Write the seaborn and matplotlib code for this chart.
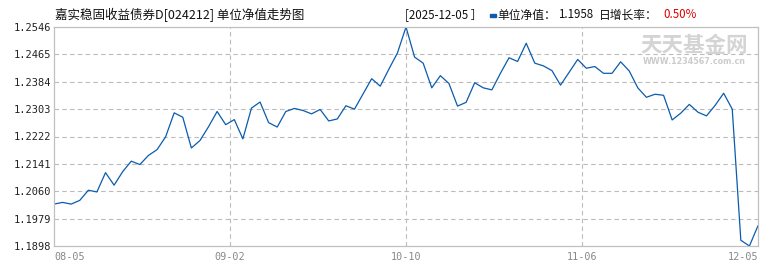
import numpy as np
import pandas as pd
import matplotlib
matplotlib.use("Agg")
import matplotlib.pyplot as plt
from matplotlib.patches import Rectangle
import seaborn as sns

# ---- data ----
nav = [1.2022, 1.2027, 1.2022, 1.2033, 1.2063, 1.2058, 1.2115, 1.2078, 1.2118, 1.2149,
       1.2139, 1.2166, 1.2183, 1.2221, 1.2292, 1.2279, 1.2188, 1.2210, 1.2251, 1.2296,
       1.2257, 1.2272, 1.2215, 1.2306, 1.2324, 1.2263, 1.2250, 1.2296, 1.2305, 1.2299,
       1.2289, 1.2302, 1.2268, 1.2274, 1.2313, 1.2303, 1.2348, 1.2393, 1.2371, 1.2421,
       1.2469, 1.2546, 1.2457, 1.2439, 1.2366, 1.2402, 1.2379, 1.2312, 1.2323, 1.2381,
       1.2366, 1.2360, 1.2409, 1.2455, 1.2444, 1.2498, 1.2439, 1.2431, 1.2417, 1.2374,
       1.2412, 1.2450, 1.2424, 1.2429, 1.2409, 1.2409, 1.2443, 1.2416, 1.2366, 1.2338,
       1.2347, 1.2344, 1.2271, 1.2291, 1.2317, 1.2294, 1.2283, 1.2314, 1.2350, 1.2303,
       1.1915, 1.1898, 1.1958]
x_labels = ["08-05", "09-02", "10-10", "11-06", "12-05"]
title = "嘉实稳固收益债券D[024212] 单位净值走势图"
last_date = "[2025-12-05 ］"
nav_label = "单位净值："
nav_value = "1.1958"
growth_label = "日增长率："
growth_value = "0.50%"

sns.set_theme(style="white")
plt.rcParams['font.family'] = ['Noto Sans CJK SC', 'DejaVu Sans']

W, H = 770, 270
fig = plt.figure(figsize=(W / 100, H / 100), dpi=100)
L, R, T, B = 54, 758, 27, 246
ax = fig.add_axes([L / W, 1 - B / H, (R - L) / W, (B - T) / H])

df = pd.DataFrame({"idx": np.arange(len(nav)), "nav": nav})
sns.lineplot(data=df, x="idx", y="nav", ax=ax, color="#0b5cad", linewidth=0.9)

n = len(nav) - 1
ymin, ymax = min(nav), max(nav)
ax.set_xlim(0, n)
ax.set_ylim(ymin, ymax)
yt = np.linspace(ymin, ymax, 9)
ax.set_yticks(yt)
ax.set_yticklabels([f"{v:.4f}" for v in yt], family="DejaVu Sans Mono", fontsize=7.5, color="#222222")
xt = np.linspace(0, n, len(x_labels))
ax.set_xticks(xt)
ax.set_xticklabels(x_labels, family="DejaVu Sans Mono", fontsize=7.3, color="#888888")
for i, lab in enumerate(ax.get_xticklabels()):
    if i == 0:
        lab.set_ha("left")
    elif i == len(x_labels) - 1:
        lab.set_ha("right")
ax.tick_params(axis="both", length=0)
ax.tick_params(axis="y", pad=2)
ax.tick_params(axis="x", pad=4)
ax.set_xlabel("")
ax.set_ylabel("")

for v in yt[1:-1]:
    ax.axhline(v, color="#bbbbbb", lw=0.8, ls=(0, (4, 3)), zorder=0)
for v in xt[1:-1]:
    ax.axvline(v, color="#bbbbbb", lw=0.8, ls=(0, (4, 3)), zorder=0)
for s in ax.spines.values():
    s.set_color("#c0c0c0")
    s.set_linewidth(0.9)

# watermark
fig.text(694 / W, 1 - 46 / H, "天天基金网", ha="center", va="center",
         fontsize=15.5, fontweight="bold", color="#d4d4d4", zorder=0)
fig.text(694 / W, 1 - 62 / H, "WWW.1234567.com.cn", ha="center", va="center",
         fontsize=5.8, family="DejaVu Sans", fontweight="bold", color="#cccccc", zorder=0)

# header
fig.text(55 / W, 1 - 15 / H, title, ha="left", va="center", fontsize=9, color="#111111")
fig.text(405 / W, 1 - 15 / H, last_date, ha="left", va="center", fontsize=8.3, color="#111111")
fig.add_artist(Rectangle((490 / W, 1 - 16.5 / H), 6 / W, 3 / H, transform=fig.transFigure,
                         color="#0b5cad"))
fig.text(497 / W, 1 - 15 / H, nav_label, ha="left", va="center", fontsize=8.5, color="#111111")
fig.text(558 / W, 1 - 15 / H, nav_value, ha="left", va="center", fontsize=8.3, color="#111111")
fig.text(599 / W, 1 - 15 / H, growth_label, ha="left", va="center", fontsize=8.5, color="#111111")
fig.text(663 / W, 1 - 15 / H, growth_value, ha="left", va="center", fontsize=8.3, color="#dd0000")

fig.savefig("out.png", dpi=100)
